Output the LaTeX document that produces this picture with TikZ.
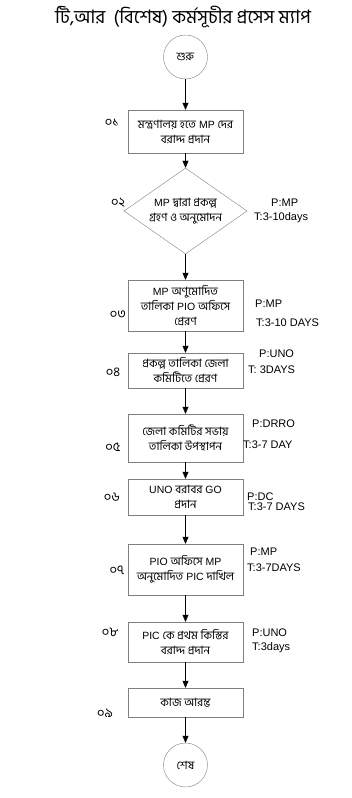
\documentclass[tikz,border=0pt]{standalone}
\usepackage{fontspec}
\setmainfont{Liberation Sans}
\newfontfamily\bnfont[Script=Bengali,Scale=1.09]{Hind Siliguri}
\newcommand{\bn}[1]{{\bnfont #1}}
\usetikzlibrary{shapes.geometric,arrows.meta}
\tikzset{
  proc/.style={draw=gray, rectangle, minimum width=115pt, inner sep=1pt,
    align=center, font=\fontsize{10.5}{15}\selectfont},
  term/.style={draw=gray, circle, minimum size=44pt, inner sep=0pt,
    font=\bnfont\fontsize{10.5}{11}\selectfont},
  decide/.style={draw=gray, diamond, aspect=1.43, minimum width=123pt,
    minimum height=86pt, inner sep=0pt, align=center,
    font=\fontsize{10.5}{15}\selectfont},
  flow/.style={-{Triangle[length=7pt,width=6pt]}, black},
  stepno/.style={font=\bnfont\fontsize{12}{12}\selectfont},
  info/.style={anchor=west, inner sep=0pt, font=\fontsize{11}{12}\selectfont},
}
\begin{document}
\begin{tikzpicture}[x=1pt,y=-1pt]
  \useasboundingbox (0,0) rectangle (352,798);
  % title
  \node[font=\bnfont\fontsize{17}{19}\selectfont] (title) at (183,17)
    {টি,আর\ \ (বিশেষ) কর্মসূচীর প্রসেস ম্যাপ};
  % flow
  \node[term] (start) at (185.5,57) {শুরু};
  \node[proc, minimum height=43pt] (b1) at (185.5,131.5)
    {\bn{মন্ত্রণালয় হতে} MP \bn{দের}\\ \bn{বরাদ্দ প্রদান}};
  \node[decide] (d2) at (185.5,211)
    {MP \bn{দ্বারা প্রকল্প}\\ \bn{গ্রহণ ও অনুমোদন}};
  \node[proc, minimum height=51pt] (b3) at (185.5,305.5)
    {MP \bn{অণুমোদিত}\\ \bn{তালিকা} PIO \bn{অফিসে}\\ \bn{প্রেরণ}};
  \node[proc, minimum height=35pt] (b4) at (185.5,370.5)
    {\bn{প্রকল্প তালিকা জেলা}\\ \bn{কমিটিতে প্রেরণ}};
  \node[proc, minimum height=48pt] (b5) at (185.5,438)
    {\bn{জেলা কমিটির সভায়}\\ \bn{তালিকা উপস্থাপন}};
  \node[proc, minimum height=36pt] (b6) at (185.5,497)
    {UNO \bn{বরাবর} GO\\ \bn{প্রদান}};
  \node[proc, minimum height=51pt] (b7) at (185.5,569.5)
    {PIO \bn{অফিসে} MP\\ \bn{অনুমোদিত} PIC \bn{দাখিল}};
  \node[proc, minimum height=40pt] (b8) at (185.5,642)
    {PIC \bn{কে প্রথম কিস্তির}\\ \bn{বরাদ্দ প্রদান}};
  \node[proc, minimum height=29pt] (b9) at (185.5,702.5)
    {\bn{কাজ আরম্ভ}};
  \node[term] (stop) at (185.5,765) {শেষ};
  \draw[flow] (start) -- (b1);
  \draw[flow] (b1) -- (d2);
  \draw[flow] (d2) -- (b3);
  \draw[flow] (b3) -- (b4);
  \draw[flow] (b4) -- (b5);
  \draw[flow] (b5) -- (b6);
  \draw[flow] (b6) -- (b7);
  \draw[flow] (b7) -- (b8);
  \draw[flow] (b8) -- (b9);
  \draw[flow] (b9) -- (stop);
  % step numbers
  \node[stepno] (n1) at (112,123) {০১};
  \node[stepno] (n2) at (118,203) {০২};
  \node[stepno] (n3) at (118,315) {০৩};
  \node[stepno] (n4) at (113,372) {০৪};
  \node[stepno] (n5) at (113,447) {০৫};
  \node[stepno] (n6) at (112,497) {০৬};
  \node[stepno] (n7) at (117,570) {০৭};
  \node[stepno] (n8) at (110,632) {০৮};
  \node[stepno] (n9) at (105,713) {০৯};
  % person and time
  \node[info] (p2) at (271,203) {P:MP};
  \node[info] (t2) at (254,218) {T:3-10days};
  \node[info] (p3) at (255,304) {P:MP};
  \node[info] (t3) at (256,323) {T:3-10 DAYS};
  \node[info] (p4) at (259,354) {P:UNO};
  \node[info] (t4) at (248,370) {T: 3DAYS};
  \node[info] (p5) at (252,424) {P:DRRO};
  \node[info] (t5) at (243,445) {T:3-7 DAY};
  \node[info] (p6) at (247,497) {P:DC};
  \node[info] (t6) at (248,507) {T:3-7 DAYS};
  \node[info] (p7) at (250,552) {P:MP};
  \node[info] (t7) at (247,568) {T:3-7DAYS};
  \node[info] (p8) at (252,633) {P:UNO};
  \node[info] (t8) at (252,648) {T:3days};
\end{tikzpicture}
\end{document}
